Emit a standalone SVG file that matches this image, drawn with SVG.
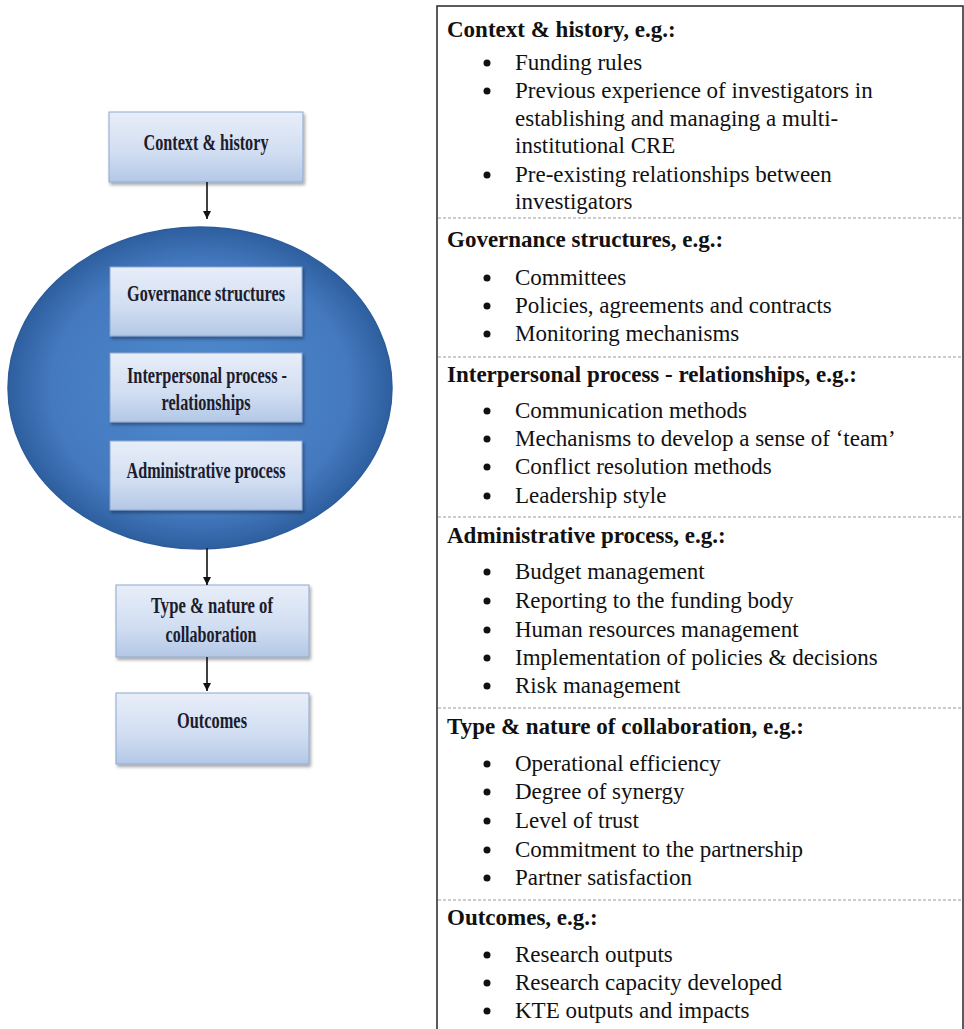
<svg xmlns="http://www.w3.org/2000/svg" width="964" height="1029" viewBox="0 0 964 1029">
<defs>
<linearGradient id="boxg" x1="0" y1="0" x2="0" y2="1">
<stop offset="0" stop-color="#e8eef9"/>
<stop offset="0.6" stop-color="#d0ddf1"/>
<stop offset="1" stop-color="#b3c7e6"/>
</linearGradient>
<radialGradient id="ellg" cx="0.5" cy="0.5" r="0.5">
<stop offset="0" stop-color="#4f8bce"/>
<stop offset="0.78" stop-color="#4479bf"/>
<stop offset="1" stop-color="#2e5f9f"/>
</radialGradient>
<filter id="sh" x="-10%" y="-10%" width="125%" height="130%">
<feDropShadow dx="1.5" dy="2.5" stdDeviation="1.8" flood-color="#000" flood-opacity="0.35"/>
</filter>
<marker id="ah" viewBox="0 0 10 10" refX="10" refY="5" markerWidth="5.5" markerHeight="5" orient="auto" markerUnits="strokeWidth">
<path d="M0,0 L10,5 L0,10 z" fill="#111"/>
</marker>
<style>
.box{fill:url(#boxg);stroke:#8ea8d0;stroke-width:1;filter:url(#sh)}
.bt{font-family:"Liberation Serif",serif;font-weight:bold;font-size:23px;fill:#1c1c2c;text-anchor:middle}
.h{font-family:"Liberation Serif",serif;font-weight:bold;font-size:23px;fill:#111}
.t{font-family:"Liberation Serif",serif;font-size:23px;fill:#111}
.dash{stroke:#9a9a9a;stroke-width:1;stroke-dasharray:3 2}
.bul{fill:#111}
.conn{stroke:#111;stroke-width:1.6;fill:none;marker-end:url(#ah)}
</style>
</defs>
<rect x="0" y="0" width="964" height="1029" fill="#fff"/>

<g id="cluster-ellipse">
<ellipse cx="200" cy="388" rx="192" ry="161" fill="url(#ellg)" stroke="#2c5c9c" stroke-width="1.5"/>
</g>

<g id="node-context">
<rect class="box" x="109" y="112" width="194" height="70"/>
<text class="bt" x="206" y="150" textLength="125" lengthAdjust="spacingAndGlyphs">Context &amp; history</text>
</g>
<g id="node-governance">
<rect class="box" x="110" y="267" width="192" height="69"/>
<text class="bt" x="206" y="301" textLength="158" lengthAdjust="spacingAndGlyphs">Governance structures</text>
</g>
<g id="node-interpersonal">
<rect class="box" x="110" y="353" width="192" height="69"/>
<text class="bt" x="207" y="383" textLength="160" lengthAdjust="spacingAndGlyphs">Interpersonal process -</text>
<text class="bt" x="206" y="410" textLength="89" lengthAdjust="spacingAndGlyphs">relationships</text>
</g>
<g id="node-administrative">
<rect class="box" x="110" y="441" width="192" height="69"/>
<text class="bt" x="206" y="478" textLength="159" lengthAdjust="spacingAndGlyphs">Administrative process</text>
</g>
<g id="node-type">
<rect class="box" x="116" y="585" width="193" height="72"/>
<text class="bt" x="212" y="613" textLength="122" lengthAdjust="spacingAndGlyphs">Type &amp; nature of</text>
<text class="bt" x="211" y="642" textLength="91" lengthAdjust="spacingAndGlyphs">collaboration</text>
</g>
<g id="node-outcomes">
<rect class="box" x="116" y="693" width="193" height="71"/>
<text class="bt" x="212" y="728" textLength="70" lengthAdjust="spacingAndGlyphs">Outcomes</text>
</g>

<g id="connectors">
<line class="conn" x1="207" y1="182" x2="207" y2="219"/>
<line class="conn" x1="207" y1="548" x2="207" y2="585"/>
<line class="conn" x1="207" y1="657" x2="207" y2="691"/>
</g>

<g id="panel">
<rect x="437" y="6" width="526" height="1040" fill="none" stroke="#333" stroke-width="1.6"/>
<line class="dash" x1="438" y1="218" x2="963" y2="218"/>
<line class="dash" x1="438" y1="357" x2="963" y2="357"/>
<line class="dash" x1="438" y1="517" x2="963" y2="517"/>
<line class="dash" x1="438" y1="708" x2="963" y2="708"/>
<line class="dash" x1="438" y1="900" x2="963" y2="900"/>

<text class="h" x="447" y="37">Context &amp; history, e.g.:</text>
<circle class="bul" cx="487" cy="63" r="3.5"/><text class="t" x="515" y="70">Funding rules</text>
<circle class="bul" cx="487" cy="91" r="3.5"/><text class="t" x="515" y="98">Previous experience of investigators in</text>
<text class="t" x="515" y="126">establishing and managing a multi-</text>
<text class="t" x="515" y="153">institutional CRE</text>
<circle class="bul" cx="487" cy="175" r="3.5"/><text class="t" x="515" y="182">Pre-existing relationships between</text>
<text class="t" x="515" y="209">investigators</text>

<text class="h" x="447" y="247">Governance structures, e.g.:</text>
<circle class="bul" cx="487" cy="278" r="3.5"/><text class="t" x="515" y="285">Committees</text>
<circle class="bul" cx="487" cy="306" r="3.5"/><text class="t" x="515" y="313">Policies, agreements and contracts</text>
<circle class="bul" cx="487" cy="334" r="3.5"/><text class="t" x="515" y="341">Monitoring mechanisms</text>

<text class="h" x="447" y="382">Interpersonal process - relationships, e.g.:</text>
<circle class="bul" cx="487" cy="411" r="3.5"/><text class="t" x="515" y="418">Communication methods</text>
<circle class="bul" cx="487" cy="439" r="3.5"/><text class="t" x="515" y="446">Mechanisms to develop a sense of ‘team’</text>
<circle class="bul" cx="487" cy="467" r="3.5"/><text class="t" x="515" y="474">Conflict resolution methods</text>
<circle class="bul" cx="487" cy="496" r="3.5"/><text class="t" x="515" y="503">Leadership style</text>

<text class="h" x="447" y="543">Administrative process, e.g.:</text>
<circle class="bul" cx="487" cy="572" r="3.5"/><text class="t" x="515" y="579">Budget management</text>
<circle class="bul" cx="487" cy="601" r="3.5"/><text class="t" x="515" y="608">Reporting to the funding body</text>
<circle class="bul" cx="487" cy="630" r="3.5"/><text class="t" x="515" y="637">Human resources management</text>
<circle class="bul" cx="487" cy="658" r="3.5"/><text class="t" x="515" y="665">Implementation of policies &amp; decisions</text>
<circle class="bul" cx="487" cy="686" r="3.5"/><text class="t" x="515" y="693">Risk management</text>

<text class="h" x="447" y="734">Type &amp; nature of collaboration, e.g.:</text>
<circle class="bul" cx="487" cy="764" r="3.5"/><text class="t" x="515" y="771">Operational efficiency</text>
<circle class="bul" cx="487" cy="792" r="3.5"/><text class="t" x="515" y="799">Degree of synergy</text>
<circle class="bul" cx="487" cy="821" r="3.5"/><text class="t" x="515" y="828">Level of trust</text>
<circle class="bul" cx="487" cy="850" r="3.5"/><text class="t" x="515" y="857">Commitment to the partnership</text>
<circle class="bul" cx="487" cy="878" r="3.5"/><text class="t" x="515" y="885">Partner satisfaction</text>

<text class="h" x="447" y="925">Outcomes, e.g.:</text>
<circle class="bul" cx="487" cy="955" r="3.5"/><text class="t" x="515" y="962">Research outputs</text>
<circle class="bul" cx="487" cy="983" r="3.5"/><text class="t" x="515" y="990">Research capacity developed</text>
<circle class="bul" cx="487" cy="1011" r="3.5"/><text class="t" x="515" y="1018">KTE outputs and impacts</text>
</g>
</svg>
